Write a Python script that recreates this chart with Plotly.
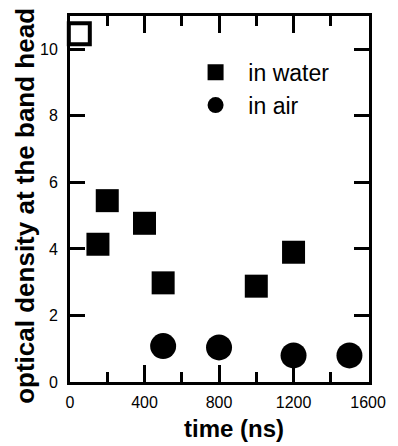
import plotly.graph_objects as go

# data
water_t = [150, 200, 400, 500, 1000, 1200]
water_od = [4.14, 5.45, 4.77, 2.98, 2.88, 3.9]
air_t = [500, 800, 1200, 1500]
air_od = [1.08, 1.04, 0.8, 0.8]
open_t = [50]
open_od = [10.47]

x_ticks = [0, 400, 800, 1200, 1600]
y_ticks = [0, 2, 4, 6, 8, 10]

TICKFONT = dict(family="Liberation Sans, Arial", size=16, color="black")
BOLD = "Liberation Sans, Arial, sans-serif"
NB = "\u00a0\u00a0"

fig = go.Figure()
fig.add_trace(go.Scatter(x=water_t, y=water_od, mode="markers", name=NB + "in water",
                         marker=dict(symbol="square", size=23, color="black", line=dict(width=0)),
                         cliponaxis=False))
fig.add_trace(go.Scatter(x=air_t, y=air_od, mode="markers", name=NB + "in air",
                         marker=dict(symbol="circle", size=26, color="black", line=dict(width=0)),
                         cliponaxis=False))
fig.add_trace(go.Scatter(x=open_t, y=open_od, mode="markers", showlegend=False,
                         marker=dict(symbol="square-open", size=21, color="black", line=dict(width=4, color="black")),
                         cliponaxis=False))

axis_common = dict(showgrid=False, zeroline=False, showline=True, linecolor="black", linewidth=3,
                   mirror="ticks", ticks="inside", tickcolor="black", tickwidth=3,
                   tickfont=TICKFONT)

fig.update_xaxes(range=[0, 1605], tickvals=x_ticks, ticktext=[str(v) for v in x_ticks], ticklen=17,
                 minor=dict(dtick=200, tick0=0, ticks="inside", ticklen=10, tickwidth=3, tickcolor="black"),
                 ticklabelstandoff=4, **axis_common)
fig.update_yaxes(range=[0, 11], tickvals=y_ticks, ticktext=[str(v) for v in y_ticks], ticklen=15,
                 ticklabelstandoff=6, **axis_common)

fig.add_annotation(text="<b>time (ns)</b>", xref="paper", yref="paper", x=0.548, y=-0.126,
                   xanchor="center", yanchor="middle", showarrow=False,
                   font=dict(family=BOLD, size=24, color="black"))
fig.add_annotation(text="<b>optical density at the band head</b>", xref="paper", yref="paper",
                   x=-0.151, y=0.481, xanchor="center", yanchor="middle", textangle=-90, showarrow=False,
                   font=dict(family=BOLD, size=26, color="black"))

fig.update_layout(
    width=398, height=446,
    margin=dict(l=70, r=24, t=16, b=64),
    paper_bgcolor="white", plot_bgcolor="white",
    showlegend=True,
    legend=dict(x=0.42, y=0.905, xanchor="left", yanchor="top", bgcolor="rgba(0,0,0,0)",
                font=dict(family="Liberation Sans, Arial", size=23, color="black"),
                tracegroupgap=0, itemsizing="trace"),
)

fig.write_html("out.html", config={"displayModeBar": False},
               post_script="document.body.style.margin='0';document.body.style.padding='0';")
